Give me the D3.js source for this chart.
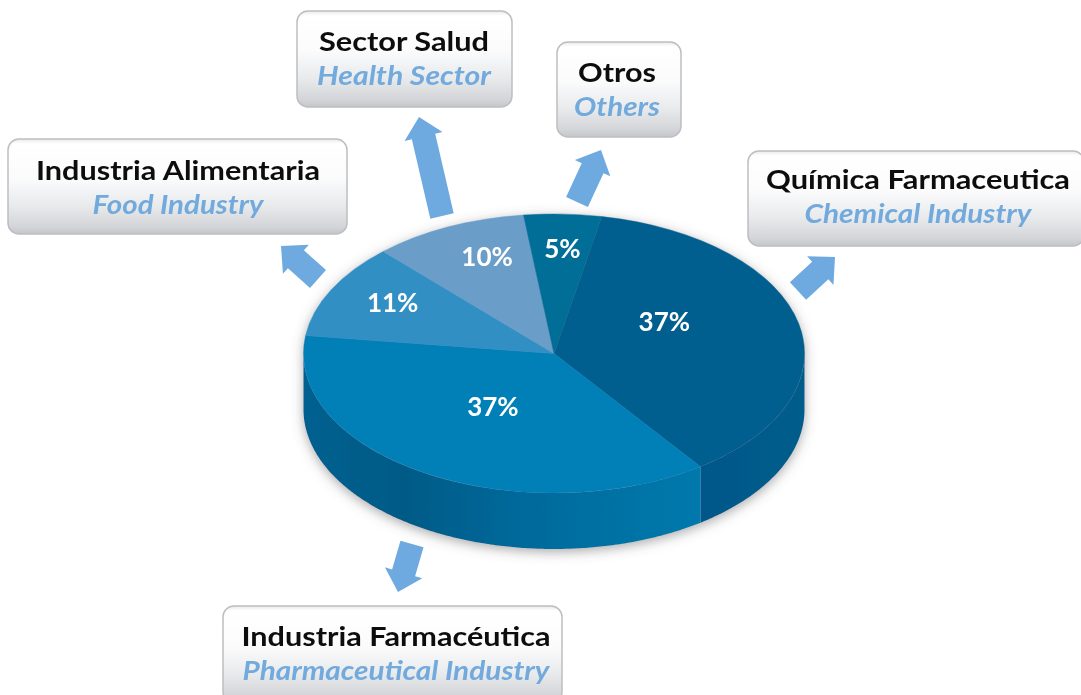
<!DOCTYPE html>
<html lang="en">

<head>
  <meta charset="utf-8">
  <title>Sectores</title>
  <script type="text/javascript" src="https://d3js.org/d3.v7.min.js"></script>
  <style>
    html, body { margin: 0; padding: 0; background: #fff; overflow: hidden; }
    svg { display: block; }
    text { font-family: Lato, "Open Sans", sans-serif; }
  </style>
</head>

<body>
  <script type="text/javascript">
    // data, clockwise from the right hand slice
    var shares = [37, 37, 11, 10, 5];
    var namesEs = ["Química Farmaceutica", "Industria Farmacéutica", "Industria Alimentaria", "Sector Salud", "Otros"];
    var namesEn = ["Chemical Industry", "Pharmaceutical Industry", "Food Industry", "Health Sector", "Others"];

    var sliceColors = ["#005f8f", "#0080b7", "#338fc4", "#6a9dc8", "#006e96"];

    // label boxes: x, y, w, h
    var boxes = [[748, 151, 336, 95], [223, 606, 339, 97], [8, 139, 339, 95], [297, 11, 215, 96], [557, 42, 124, 95]];
    // text: center x, baseline 1, baseline 2, width 1, width 2
    var boxText = [[918, 189, 223, 304, 227], [396, 646, 680, 309, 307], [178, 180, 214, 284, 171], [404, 51, 85, 170, 174], [617, 82, 116, 78, 86]];
    // arrows: tail x, tail y, tip x, tip y
    var arrows = [[798, 291, 835, 257], [412, 544, 398, 592], [318, 279, 281, 246], [442, 216, 419, 117], [577, 202, 601, 150]];
    // nudge of the % labels off the slice centroid
    var labelNudge = [[-12, -17], [3, -7], [-50, -19], [-14, -33], [4, -35]];

    var w = 1081;
    var h = 695;
    var cx = 554, cy = 353.5, rx = 250.5, ry = 139.5, depth = 56;
    var startDeg = 11;

    var svg = d3.select("body").append("svg")
      .attr("width", w)
      .attr("height", h)
      .attr("viewBox", "0 0 " + w + " " + h);

    var defs = svg.append("defs");

    var boxGrad = defs.append("linearGradient")
      .attr("id", "boxGrad").attr("x1", 0).attr("y1", 0).attr("x2", 0).attr("y2", 1);
    [[0, "#e9e9ea"], [0.05, "#ffffff"], [0.42, "#fbfbfc"], [0.7, "#e8eaec"], [0.92, "#d3d5d8"], [1, "#c4c6c9"]].forEach(function(s) {
      boxGrad.append("stop").attr("offset", s[0]).attr("stop-color", s[1]);
    });

    // wall gradients live inside the pie group, so x is relative to the pie center
    var wallFront = defs.append("linearGradient")
      .attr("id", "wallFront").attr("gradientUnits", "userSpaceOnUse")
      .attr("x1", -rx).attr("x2", 150).attr("y1", 0).attr("y2", 0);
    [[0, "#00608f"], [0.25, "#005a86"], [0.55, "#006a9c"], [1, "#0079ac"]].forEach(function(s) {
      wallFront.append("stop").attr("offset", s[0]).attr("stop-color", s[1]);
    });

    var wallRight = defs.append("linearGradient")
      .attr("id", "wallRight").attr("gradientUnits", "userSpaceOnUse")
      .attr("x1", 146).attr("x2", rx).attr("y1", 0).attr("y2", 0);
    [[0, "#00588a"], [1, "#005c8b"]].forEach(function(s) {
      wallRight.append("stop").attr("offset", s[0]).attr("stop-color", s[1]);
    });

    var shadow = defs.append("filter").attr("id", "pieShadow")
      .attr("x", "-10%").attr("y", "-10%").attr("width", "120%").attr("height", "125%");
    shadow.append("feDropShadow")
      .attr("dx", 0).attr("dy", 3).attr("stdDeviation", 6)
      .attr("flood-color", "#555").attr("flood-opacity", 0.5);

    var soft = defs.append("filter").attr("id", "soft");
    soft.append("feGaussianBlur").attr("stdDeviation", 0.45);

    // arrows
    var shaftW = 24, headW = 39, headL = 20;
    svg.append("g").selectAll("polygon")
      .data(arrows)
      .enter()
      .append("polygon")
      .attr("fill", "#6eaadf")
      .attr("filter", "url(#soft)")
      .attr("points", function(d) {
        var dx = d[2] - d[0], dy = d[3] - d[1];
        var len = Math.sqrt(dx * dx + dy * dy);
        var ux = dx / len, uy = dy / len, nx = -uy, ny = ux;
        var bx = d[2] - ux * headL, by = d[3] - uy * headL;
        return [
          [d[0] + nx * shaftW / 2, d[1] + ny * shaftW / 2],
          [bx + nx * shaftW / 2, by + ny * shaftW / 2],
          [bx + nx * headW / 2, by + ny * headW / 2],
          [d[2], d[3]],
          [bx - nx * headW / 2, by - ny * headW / 2],
          [bx - nx * shaftW / 2, by - ny * shaftW / 2],
          [d[0] - nx * shaftW / 2, d[1] - ny * shaftW / 2]
        ].join(" ");
      });

    // label boxes
    var boxG = svg.append("g").selectAll("g")
      .data(namesEs)
      .enter()
      .append("g");

    boxG.append("rect")
      .attr("x", function(d, i) { return boxes[i][0]; })
      .attr("y", function(d, i) { return boxes[i][1]; })
      .attr("width", function(d, i) { return boxes[i][2]; })
      .attr("height", function(d, i) { return boxes[i][3]; })
      .attr("rx", 11)
      .attr("fill", "url(#boxGrad)")
      .attr("stroke", "#bcbec0")
      .attr("stroke-width", 1.5)
      .attr("filter", "url(#soft)");

    boxG.append("text")
      .attr("x", function(d, i) { return boxText[i][0]; })
      .attr("y", function(d, i) { return boxText[i][1]; })
      .attr("text-anchor", "middle")
      .attr("textLength", function(d, i) { return boxText[i][3]; })
      .attr("lengthAdjust", "spacingAndGlyphs")
      .attr("font-size", 26)
      .attr("font-weight", 700)
      .attr("fill", "#111")
      .attr("filter", "url(#soft)")
      .text(function(d) { return d; });

    boxG.append("text")
      .attr("x", function(d, i) { return boxText[i][0]; })
      .attr("y", function(d, i) { return boxText[i][2]; })
      .attr("text-anchor", "middle")
      .attr("textLength", function(d, i) { return boxText[i][4]; })
      .attr("lengthAdjust", "spacingAndGlyphs")
      .attr("font-size", 26)
      .attr("font-style", "italic")
      .attr("font-weight", 700)
      .attr("fill", "#72aadd")
      .attr("filter", "url(#soft)")
      .text(function(d, i) { return namesEn[i]; });

    // pie
    var pie = d3.pie().sort(null)
      .startAngle(startDeg * Math.PI / 180)
      .endAngle((startDeg + 360) * Math.PI / 180);
    var slices = pie(shares);

    var arc = d3.arc().innerRadius(0).outerRadius(rx);
    var ratio = ry / rx;

    var pieG = svg.append("g")
      .attr("transform", "translate(" + cx + "," + cy + ")")
      .attr("filter", "url(#pieShadow)");

    // side wall, only the part of a slice that faces the viewer
    function wall(d) {
      var a0 = Math.max(d.startAngle, Math.PI / 2);
      var a1 = Math.min(d.endAngle, 3 * Math.PI / 2);
      var ang = d3.range(a0, a1, 0.01).concat([a1]);
      return d3.area()
        .x(function(a) { return rx * Math.sin(a); })
        .y0(function(a) { return -ry * Math.cos(a); })
        .y1(function(a) { return -ry * Math.cos(a) + depth; })(ang);
    }

    pieG.selectAll("path.wall")
      .data(slices.slice(0, 2))
      .enter()
      .append("path")
      .attr("class", "wall")
      .attr("fill", function(d, i) { return i == 0 ? "url(#wallRight)" : "url(#wallFront)"; })
      .attr("d", wall);

    pieG.append("g")
      .attr("transform", "scale(1," + ratio + ")")
      .selectAll("path.slice")
      .data(slices)
      .enter()
      .append("path")
      .attr("class", "slice")
      .attr("fill", function(d, i) { return sliceColors[i]; })
      .attr("stroke", function(d, i) { return sliceColors[i]; })
      .attr("stroke-width", 0.6)
      .attr("d", arc);

    pieG.selectAll("text")
      .data(slices)
      .enter()
      .append("text")
      .attr("x", function(d, i) { return arc.centroid(d)[0] + labelNudge[i][0]; })
      .attr("y", function(d, i) { return arc.centroid(d)[1] * ratio + labelNudge[i][1]; })
      .attr("dy", "0.35em")
      .attr("text-anchor", "middle")
      .attr("font-size", 26)
      .attr("font-weight", 700)
      .attr("fill", "#fff")
      .attr("filter", "url(#soft)")
      .text(function(d) { return d.value + "%"; });
  </script>
</body>

</html>
